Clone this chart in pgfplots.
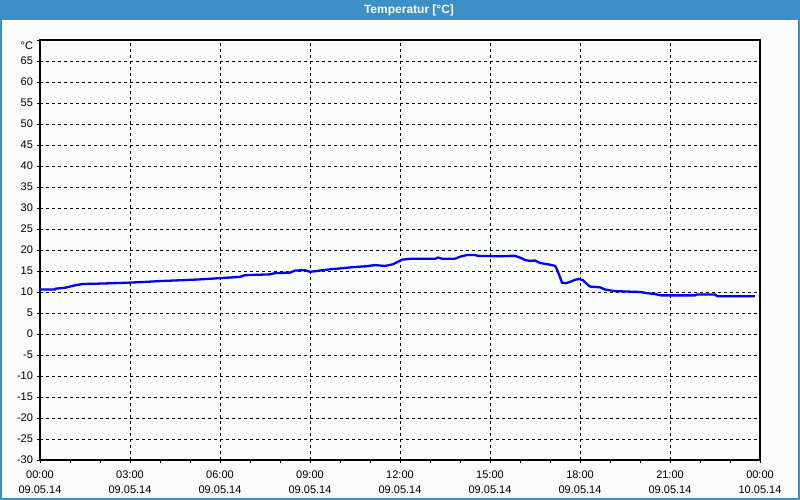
\documentclass[border=0pt]{standalone}
\usepackage{graphicx}
\usepackage{pgfplots}
\pgfplotsset{compat=1.18}
\usepackage{fontspec}
\setmainfont{Liberation Sans}
\definecolor{winblue}{RGB}{60,143,199}
\definecolor{bodybg}{RGB}{250,252,250}
\definecolor{trace}{RGB}{0,0,240}

\begin{document}
\begin{tikzpicture}[x=1bp,y=1bp]
% window frame
\fill[bodybg] (0,0) rectangle (800,500);
\fill[winblue] (0,479.5) rectangle (800,500);
\draw[winblue, line width=2bp] (1,480) -- (1,1) -- (799,1) -- (799,480);
\node[white, font=\bfseries\fontsize{12bp}{14bp}\selectfont] at (409,490) {Temperatur [°C]};

\begin{axis}[
  at={(40bp,40bp)}, anchor=south west,
  scale only axis, width=720bp, height=420bp,
  xmin=0, xmax=24, ymin=-30, ymax=70,
  xtick={0,3,...,24},
  minor xtick={1,2,4,5,7,8,10,11,13,14,16,17,19,20,22,23},
  xticklabels={{00:00\\09.05.14},{03:00\\09.05.14},{06:00\\09.05.14},{09:00\\09.05.14},
               {12:00\\09.05.14},{15:00\\09.05.14},{18:00\\09.05.14},{21:00\\09.05.14},
               {00:00\\10.05.14}},
  ytick={-30,-25,...,70},
  yticklabels={-30,-25,-20,-15,-10,-5,0,5,10,15,20,25,30,35,40,45,50,55,60,65,\raisebox{-10bp}[0pt][0pt]{°C}},
  tick label style={font=\fontsize{11bp}{15bp}\selectfont},
  xticklabel style={align=center, yshift=-4bp},
  yticklabel style={xshift=-0.5bp},
  xtick pos=bottom, ytick pos=left,
  tick align=outside,
  major tick length=3bp, minor tick length=3bp,
  tick style={black, line width=0.8bp},
  grid=major,
  major grid style={black, line width=0.8bp, dash pattern=on 3bp off 3bp},
  axis line style={black, line width=1.2bp},
  axis background/.style={fill=bodybg},
]
\addplot[trace, line width=2.3bp] coordinates {
(0,10.6) (0.5,10.6) (0.53,10.8) (0.83,11.0) (1.0,11.3) (1.17,11.6) (1.43,11.9)
(2.0,12.0) (2.9,12.2) (3.5,12.4) (4.0,12.6) (4.7,12.8) (5.33,13.0) (6.0,13.3)
(6.67,13.6) (6.83,14.0) (7.67,14.2) (7.83,14.5) (8.33,14.6) (8.5,15.1) (8.83,15.2)
(9.0,14.8) (9.33,15.1) (9.67,15.4) (10.0,15.6) (10.4,15.9) (10.83,16.1) (11.17,16.4)
(11.5,16.2) (11.77,16.6) (11.93,17.2) (12.07,17.7) (12.33,17.9) (13.17,17.9)
(13.27,18.2) (13.4,17.9) (13.83,17.9) (14.0,18.4) (14.23,18.8) (14.5,18.8)
(14.6,18.6) (15.33,18.5) (15.67,18.6) (15.83,18.6) (16.0,18.2) (16.17,17.6)
(16.33,17.4) (16.5,17.5) (16.67,16.9) (17.0,16.5) (17.17,16.2) (17.23,15.4)
(17.33,13.6) (17.4,12.2) (17.53,12.1) (17.67,12.4) (17.83,12.9) (17.97,13.1)
(18.1,12.8) (18.2,12.1) (18.33,11.3) (18.67,11.1) (18.83,10.6) (19.17,10.2)
(20.0,10.0) (20.17,9.8) (20.5,9.5) (20.7,9.2) (21.83,9.2) (21.9,9.4) (22.5,9.4)
(22.57,9.0) (23.83,9.0)
};
\end{axis}
\end{tikzpicture}
\end{document}
